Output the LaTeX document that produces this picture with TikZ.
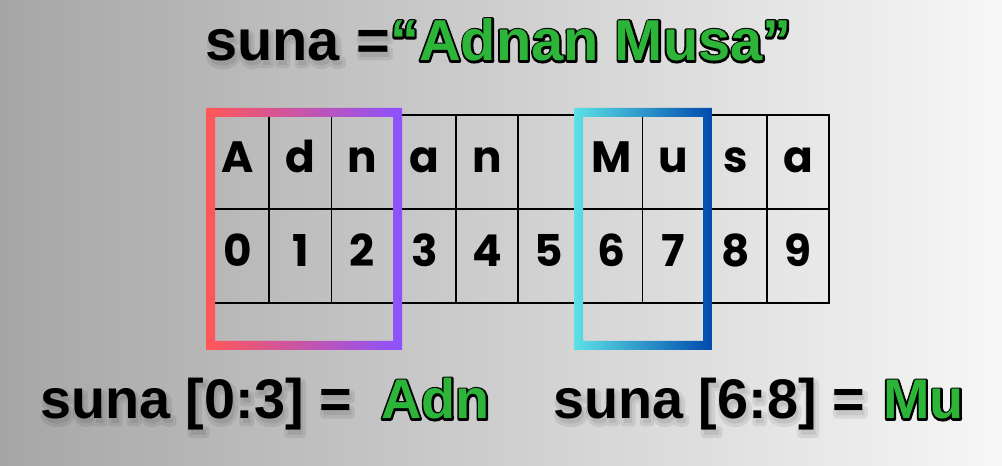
\documentclass[tikz,border=0pt]{standalone}
\usepackage{fontspec}
\setmainfont{Liberation Sans}
\newfontfamily\cellfont{Poppins}
\usetikzlibrary{positioning}

\definecolor{bgleft}{RGB}{166,166,166}
\definecolor{bgright}{RGB}{247,247,247}
\definecolor{strgreen}{RGB}{44,181,56}
\definecolor{redend}{RGB}{255,87,87}
\definecolor{purpleend}{RGB}{140,82,255}
\definecolor{cyanend}{RGB}{92,225,230}
\definecolor{blueend}{RGB}{0,74,173}

% widened copy of a text (stroke in the text colour), used under
% the green words as their black rim and for the soft drop shadow
\newcommand{\widetext}[2]{%
    \special{pdf:literal direct #1 w 1 j 2 Tr}#2\special{pdf:literal direct 0 Tr}}

\begin{document}
\begin{tikzpicture}[
    x=1bp, y=1bp,
    cell/.style={
        draw=black,
        rectangle,
        line width=1.6bp,
        minimum width=62.2bp,
        minimum height=94bp,
        inner sep=0pt,
        text height=36bp,
        text depth=14bp,
        font=\cellfont\bfseries\fontsize{44}{44}\selectfont
    },
    title/.style={
        font=\bfseries\fontsize{58}{58}\selectfont,
        inner sep=0pt,
        anchor=base west
    },
    slice/.style={
        font=\bfseries\fontsize{56}{56}\selectfont,
        inner sep=0pt,
        anchor=base west
    },
    shadowtext/.style={text=black, opacity=0.08},
    rim/.style={text=black},
    greenfill/.style={text=strgreen}
]

% background
\useasboundingbox (0,0) rectangle (1002,466);
\shade[left color=bgleft, right color=bgright] (0,0) rectangle (1002,466);

% ============================================================
% string cells and their indices
% ============================================================

\foreach \ch [count=\i from 0] in {A,d,n,a,n,,M,u,s,a} {
    \node[cell] (ch\i) at ({238.1+62.2*\i}, 304) {\ch};
    \node[cell] (ix\i) at ({238.1+62.2*\i}, 210) {\i};
}

% ============================================================
% slice frames
% ============================================================

\shade[even odd rule, left color=redend, right color=purpleend]
    (206,116) rectangle (402,358) (215,125) rectangle (393,349);
\shade[even odd rule, left color=cyanend, right color=blueend]
    (574,116) rectangle (712,358) (583,125) rectangle (703,349);

% ============================================================
% title
% ============================================================

\node[title, shadowtext] (varshadow) at (207,401) {\widetext{7}{suna =}};
\node[title] (var) at (205,405) {suna =};
\node[title, rim] (namerim) at (390,405) {\widetext{4}{“Adnan Musa”}};
\node[title, greenfill] (name) at (390,405) {“Adnan Musa”};

% ============================================================
% slices
% ============================================================

\node[slice, shadowtext] (leftshadow) at (42,43) {\widetext{7}{suna [0:3] =}};
\node[slice, shadowtext] (rightshadow) at (555,43) {\widetext{7}{suna [6:8] =}};
\node[slice] (left) at (40,47) {suna [0:3] =};
\node[slice] (right) at (553,47) {suna [6:8] =};

\node[slice, rim] (adnrim) at (381,47) {\widetext{4}{Adn}};
\node[slice, greenfill] (adn) at (381,47) {Adn};
\node[slice, rim] (murim) at (883,47) {\widetext{4}{Mu}};
\node[slice, greenfill] (mu) at (883,47) {Mu};

\end{tikzpicture}
\end{document}
